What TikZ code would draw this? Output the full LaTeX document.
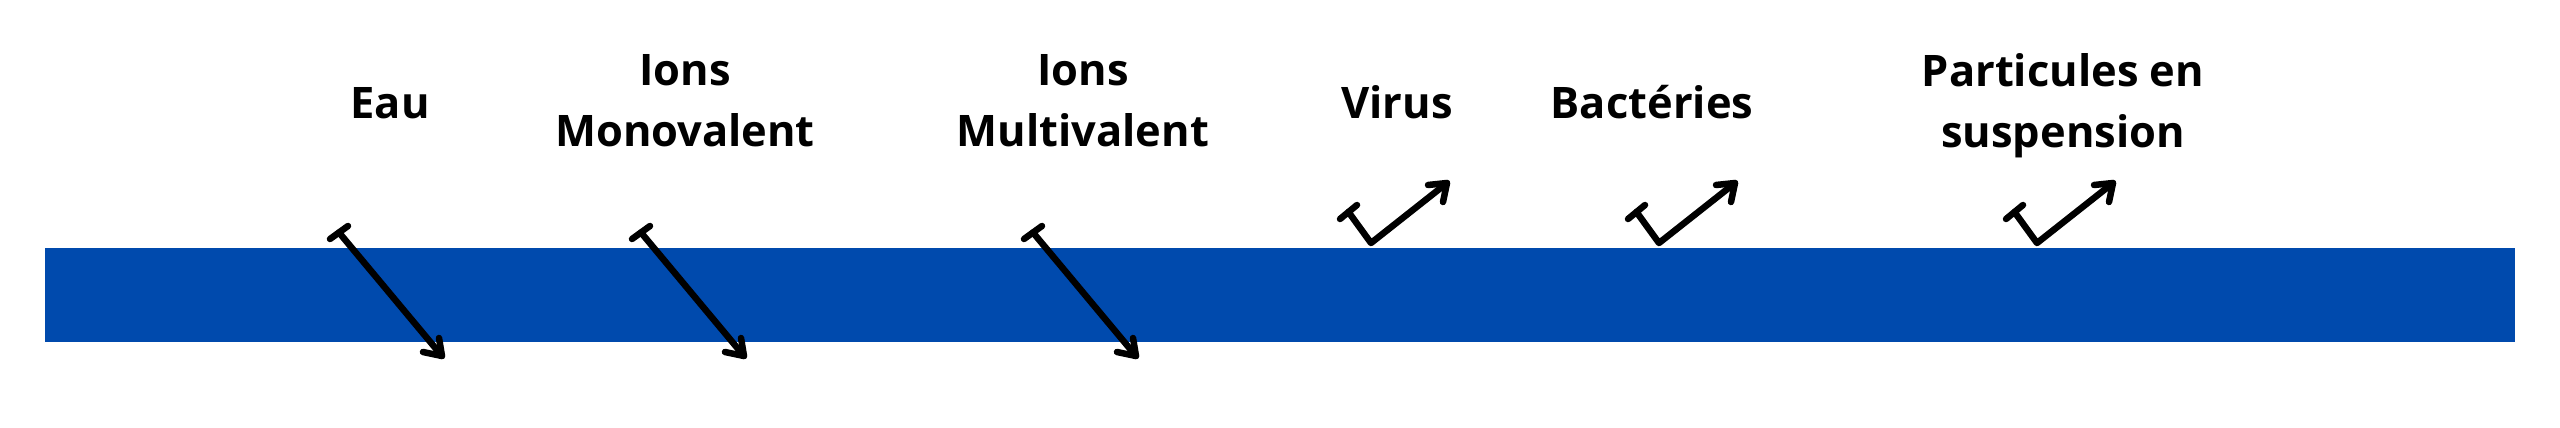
\documentclass[tikz,border=0pt]{standalone}
\usepackage{fontspec}
\setmainfont{Open Sans}
\definecolor{barblue}{RGB}{0,74,173}
\tikzset{
  lbl/.style={font=\bfseries\fontsize{12.35}{17.1}\selectfont, align=center, inner sep=0pt, anchor=base},
  pen/.style={line width=1.85pt, line cap=round, line join=round, black},
}
\begin{document}
\begin{tikzpicture}[x=0.01cm,y=-0.01cm]
\useasboundingbox[fill=white] (0,0) rectangle (2560,427);
% membrane bar
\fill[barblue] (45,248) rectangle (2515,342);
% labels
\node[lbl] (eau) at (390,118) {Eau};
\node[lbl] (mono) at (685,146) {Ions\\Monovalent};
\node[lbl] (multi) at (1083,146) {Ions\\Multivalent};
\node[lbl] (virus) at (1397,118) {Virus};
\node[lbl] (bact) at (1652,118) {Bactéries};
\node[lbl] (part) at (2063,147) {Particules en\\suspension};
% passing arrows
\foreach \dx/\nm in {0/a, 302/b, 694/c}{
  \begin{scope}[xshift=\dx*0.01cm]
    \coordinate (\nm s) at (339,232.5);
    \coordinate (\nm t1) at (330,239);
    \coordinate (\nm t2) at (348,226);
    \coordinate (\nm e) at (442,356);
    \coordinate (\nm h1) at (423,352);
    \coordinate (\nm h2) at (439,338);
    \draw[pen] (\nm t1) -- (\nm t2);
    \draw[pen] (\nm s) -- (\nm e);
    \draw[pen] (\nm h1) -- (\nm e) -- (\nm h2);
  \end{scope}
}
% rejected arrows
\foreach \dx/\nm in {0/v, 288/w, 666/p}{
  \begin{scope}[xshift=\dx*0.01cm]
    \coordinate (\nm s) at (1348.5,212);
    \coordinate (\nm t1) at (1340,219);
    \coordinate (\nm t2) at (1357,205);
    \coordinate (\nm k) at (1371,243);
    \coordinate (\nm e) at (1447,183);
    \coordinate (\nm h1) at (1428,185);
    \coordinate (\nm h2) at (1443,202);
    \draw[pen] (\nm t1) -- (\nm t2);
    \draw[pen] (\nm s) -- (\nm k) -- (\nm e);
    \draw[pen] (\nm h1) -- (\nm e) -- (\nm h2);
  \end{scope}
}
\end{tikzpicture}
\end{document}
